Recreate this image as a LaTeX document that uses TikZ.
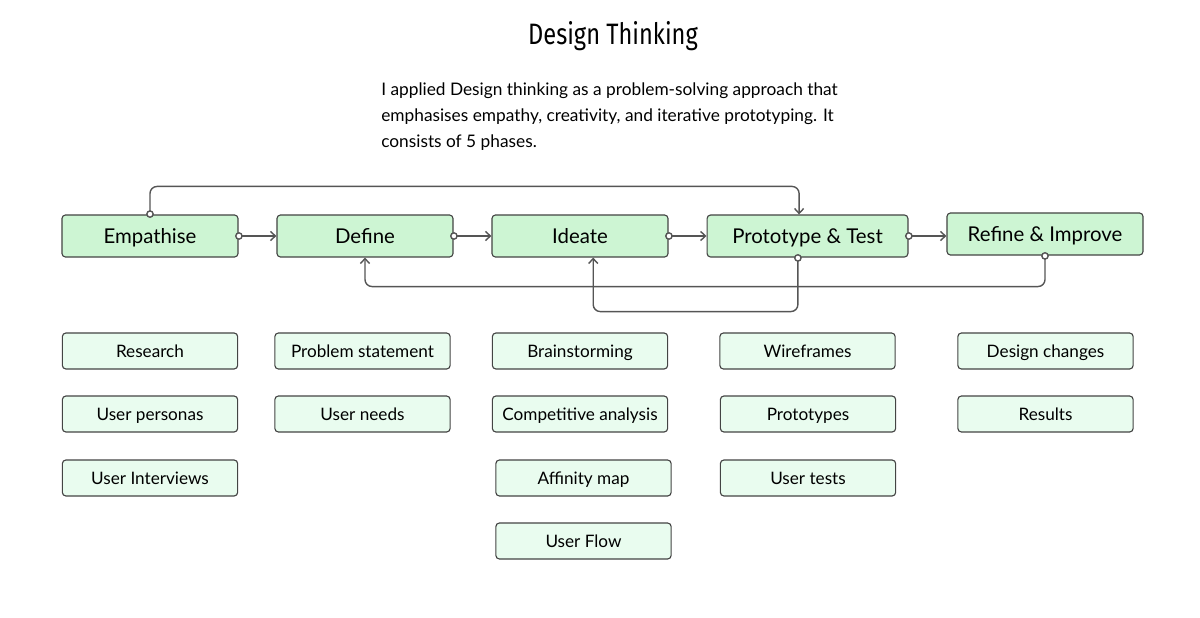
\documentclass[tikz,border=0pt]{standalone}
\usepackage{fontspec}
\setmainfont{Lato}
\newfontfamily\titlefont{Fira Sans}
\usetikzlibrary{arrows.meta}
\definecolor{phasefill}{RGB}{205,245,211}
\definecolor{taskfill}{RGB}{233,252,239}
\definecolor{edge}{RGB}{68,68,68}
\definecolor{wire}{RGB}{85,85,85}
\begin{document}
\begin{tikzpicture}[x=0.025cm,y=-0.025cm,
     phase/.style={draw=edge,fill=phasefill,rectangle,rounded corners=2.5pt,line width=0.8pt,minimum width=4.4cm,minimum height=1.05cm,text height=10.4pt,text depth=0pt,font=\fontsize{14.5}{18}\selectfont},
     task/.style={draw=edge,fill=taskfill,rectangle,rounded corners=2.5pt,line width=0.8pt,minimum width=4.38cm,minimum height=0.9cm,text height=8.8pt,text depth=0pt,font=\fontsize{12.2}{14}\selectfont},
     link/.style={draw=wire,line width=1pt,rounded corners=5pt,shorten <=-2.5pt,{Circle[open,length=5.5pt,width=5.5pt,fill=white]}-{Straight Barb[length=3.5pt,width=6.5pt]}}
     ]
%Page size of the reference
\useasboundingbox (0,0) rectangle (1200,617);

%Heading and the short text below it
\node (title) at (613,36) {\scalebox{0.8}[1]{\titlefont\fontsize{21}{24}\selectfont Design Thinking}};
\node (intro)[anchor=north west,align=left,inner sep=0pt,font=\fontsize{12.3}{18.5}\selectfont] at (381,82)
   {I applied Design thinking as a problem-solving approach that\\
    emphasises empathy, creativity, and iterative prototyping. It\\
    consists of 5 phases.};

%The five phases
\node (emp)[phase] at (150,236) {Empathise};
\node (def)[phase] at (365,236) {Define};
\node (ide)[phase] at (580,236) {Ideate};
\node (pro)[phase,minimum width=5.02cm] at (807.5,236) {Prototype \& Test};
\node (ref)[phase,minimum width=4.9cm] at (1045,234) {Refine \& Improve};

%Links between the phases
\draw[link](emp.east)--(def.west);
\draw[link](def.east)--(ide.west);
\draw[link](ide.east)--(pro.west);
\draw[link](pro.east)--(ref.west |- pro.east);
\draw[link](emp.north)--++(0,-28)-|([xshift=-0.21cm]pro.north);
\draw[link](ref.south)--++(0,31)-|(def.south);
\draw[link]([xshift=-0.24cm]pro.south)--++(0,54)-|([xshift=0.33cm]ide.south);

%Tasks of each phase
\node (res)[task] at (150,351) {Research};
\node (per)[task] at (150,414) {User personas};
\node (int)[task] at (150,478) {User Interviews};

\node (prob)[task] at (362.5,351) {Problem statement};
\node (need)[task] at (362.5,414) {User needs};

\node (brain)[task] at (580,351) {Brainstorming};
\node (comp)[task] at (580,414) {Competitive analysis};
\node (aff)[task] at (583.5,478) {Affinity map};
\node (flow)[task] at (583.5,541) {User Flow};

\node (wire)[task] at (807.5,351) {Wireframes};
\node (proto)[task] at (808,414) {Prototypes};
\node (test)[task] at (808,478) {User tests};

\node (chg)[task] at (1045.5,351) {Design changes};
\node (rslt)[task] at (1045.5,414) {Results};
\end{tikzpicture}
\end{document}
